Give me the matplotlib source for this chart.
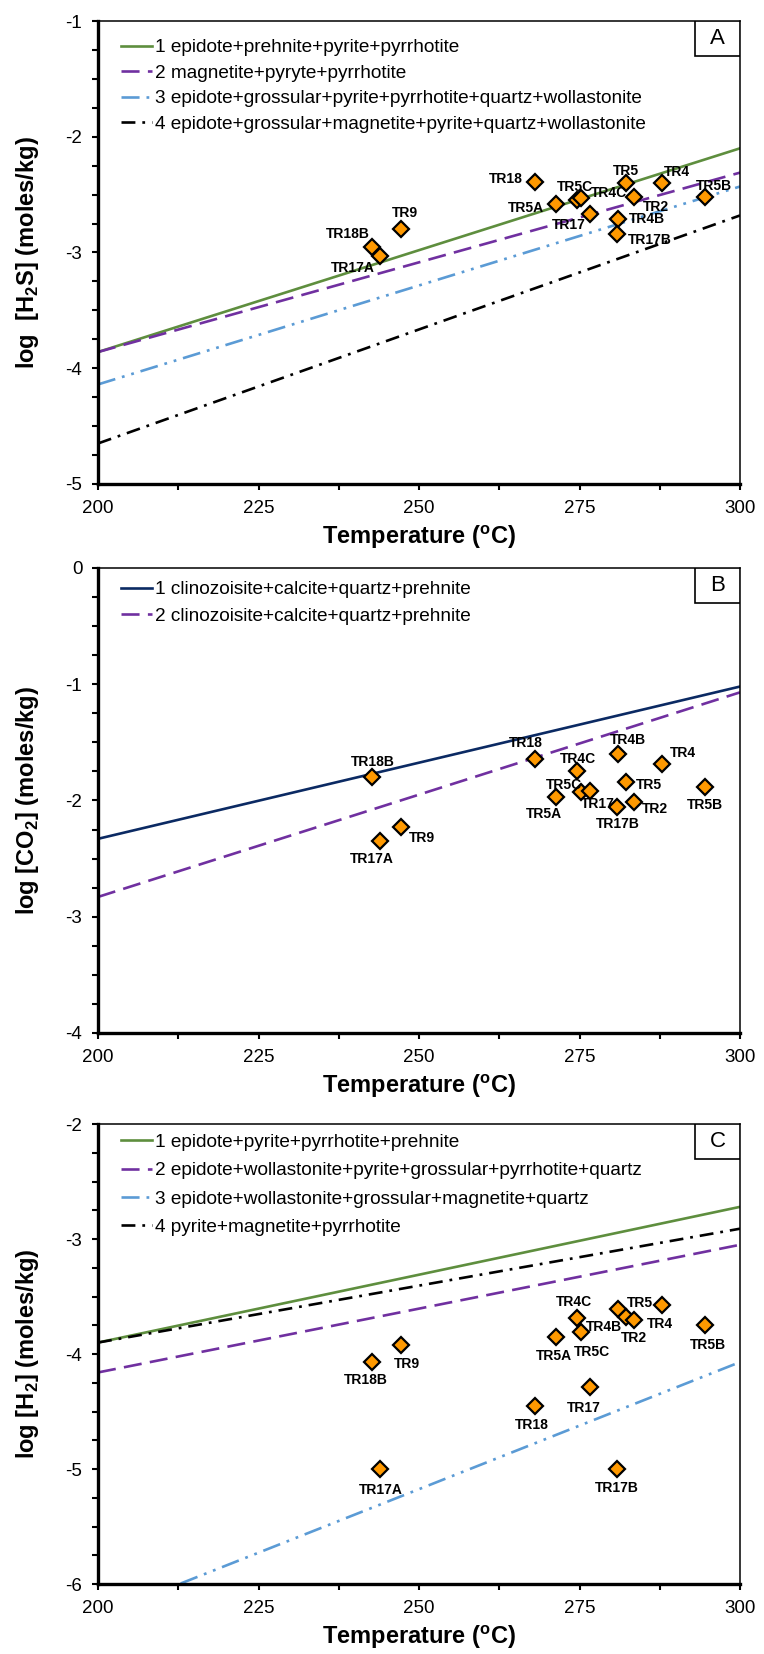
import numpy as np
import matplotlib
matplotlib.use('Agg')
import matplotlib.pyplot as plt
from matplotlib.patches import Rectangle
from matplotlib.ticker import MultipleLocator

plt.rcParams['font.family'] = ['Liberation Sans', 'DejaVu Sans']
plt.rcParams['mathtext.fontset'] = 'custom'
plt.rcParams['mathtext.rm'] = 'Liberation Sans'
plt.rcParams['mathtext.bf'] = 'Liberation Sans:bold'
plt.rcParams['axes.unicode_minus'] = False
plt.rcParams['lines.scale_dashes'] = False

#######################################################
################### DATOS #############################
#######################################################
# muestras y temperatura (oC)
samples = ['TR18B', 'TR17A', 'TR9', 'TR18', 'TR5A', 'TR4C', 'TR5C',
           'TR17', 'TR4B', 'TR17B', 'TR5', 'TR2', 'TR4', 'TR5B']
temp = [242.6, 244.0, 247.2, 268.0, 271.4, 274.6, 275.2,
        276.6, 281.0, 280.8, 282.2, 283.5, 287.8, 294.6]

# log de concentraciones (moles/kg)
logH2S = [-2.95, -3.03, -2.80, -2.39, -2.58, -2.55, -2.53,
          -2.67, -2.71, -2.84, -2.40, -2.52, -2.40, -2.52]
logCO2 = [-1.80, -2.35, -2.23, -1.64, -1.97, -1.75, -1.93,
          -1.92, -1.60, -2.06, -1.84, -2.01, -1.69, -1.88]
logH2 = [-4.07, -5.00, -3.92, -4.45, -3.85, -3.69, -3.81,
         -4.29, -3.61, -5.00, -3.68, -3.70, -3.57, -3.75]

# rectas de equilibrio: valor a 200 y 300 oC
t_line = [200, 300]

labelsA = ['1 epidote+prehnite+pyrite+pyrrhotite',
           '2 magnetite+pyryte+pyrrhotite',
           '3 epidote+grossular+pyrite+pyrrhotite+quartz+wollastonite',
           '4 epidote+grossular+magnetite+pyrite+quartz+wollastonite']
linesA = [[-3.86, -2.10], [-3.86, -2.31], [-4.14, -2.43], [-4.65, -2.68]]

labelsB = ['1 clinozoisite+calcite+quartz+prehnite',
           '2 clinozoisite+calcite+quartz+prehnite']
linesB = [[-2.33, -1.02], [-2.83, -1.07]]

labelsC = ['1 epidote+pyrite+pyrrhotite+prehnite',
           '2 epidote+wollastonite+pyrite+grossular+pyrrhotite+quartz',
           '3 epidote+wollastonite+grossular+magnetite+quartz',
           '4 pyrite+magnetite+pyrrhotite']
linesC = [[-3.90, -2.72], [-4.16, -3.05], [-6.28, -4.07], [-3.90, -2.91]]

#######################################################
################### ESTILOS ###########################
#######################################################
green = '#5E8E3E'
purple = '#7030A0'
blue = '#5B9BD5'
navy = '#0B2A63'
solid = '-'
dash = (0, (13, 6))
dashdotdot = (0, (13, 5, 2, 5, 2, 5))
dashdot = (0, (10, 5, 2, 5))

stylesA = [(green, solid), (purple, dash), (blue, dashdotdot), ('black', dashdot)]
stylesB = [(navy, solid), (purple, dash)]
stylesC = [(green, solid), (purple, dash), (blue, dashdotdot), ('black', dashdot)]

# desplazamiento de etiquetas (puntos)
offA = {'TR18B': (-17, 9), 'TR17A': (-20, -9), 'TR9': (3, 12), 'TR18': (-21, 2),
        'TR5A': (-22, -3), 'TR4C': (23, 5), 'TR5C': (-4, 8), 'TR17': (-15, -8),
        'TR4B': (21, 0), 'TR17B': (24, -4), 'TR5': (0, 9), 'TR2': (16, -7),
        'TR4': (11, 8), 'TR5B': (6, 8)}
offB = {'TR18B': (1, 11), 'TR17A': (-6, -13), 'TR9': (15, -8), 'TR18': (-6, 11),
        'TR5A': (-9, -12), 'TR4C': (1, 9), 'TR5C': (-12, 5), 'TR17': (6, -9),
        'TR4B': (7, 10), 'TR17B': (1, -12), 'TR5': (17, -2), 'TR2': (15, -5),
        'TR4': (15, 8), 'TR5B': (0, -13)}
offC = {'TR18B': (-4, -13), 'TR17A': (0, -15), 'TR9': (4, -14), 'TR18': (-2, -14),
        'TR5A': (-2, -14), 'TR4C': (-2, 12), 'TR5C': (8, -14), 'TR17': (-4, -15),
        'TR4B': (-10, -13), 'TR17B': (0, -14), 'TR5': (10, 10), 'TR2': (0, -13),
        'TR4': (-1, -14), 'TR5B': (2, -14)}


def panel(ax, yvals, lines, labels, styles, offs, ylim, ylabel, letter, leg_y, leg_sp):
    for vals, lab, (c, ls) in zip(lines, labels, styles):
        ax.plot(t_line, vals, color=c, linestyle=ls, lw=1.9, label=lab)
    ax.plot(temp, yvals, 'D', ms=7.8, mfc='#FF9900', mec='black', mew=1.6,
            zorder=5, clip_on=False)
    for s, t, v in zip(samples, temp, yvals):
        ax.annotate(s, (t, v), xytext=offs[s], textcoords='offset points',
                    ha='center', va='center', fontsize=10, fontweight='bold', zorder=6)
    ax.set_xlim(200, 300)
    ax.set_ylim(*ylim)
    ax.xaxis.set_major_locator(MultipleLocator(25))
    ax.xaxis.set_minor_locator(MultipleLocator(12.5))
    ax.yaxis.set_major_locator(MultipleLocator(1))
    ax.yaxis.set_minor_locator(MultipleLocator(0.25))
    ax.tick_params(which='both', direction='out', length=4.3, width=1.5,
                   labelsize=13.5, pad=7)
    ax.tick_params(which='minor', labelleft=False, labelbottom=False)
    for sp in ['left', 'bottom']:
        ax.spines[sp].set_linewidth(2.4)
    for sp in ['top', 'right']:
        ax.spines[sp].set_linewidth(1.1)
    ax.set_xlabel(r'Temperature ($^{\mathbf{o}}$C)', fontsize=17, fontweight='bold')
    ax.xaxis.set_label_coords(0.5, -0.115)
    ax.xaxis.label.set_va('center')
    ax.set_ylabel(ylabel, fontsize=17, fontweight='bold')
    ax.yaxis.set_label_coords(-0.11, 0.5)
    ax.yaxis.label.set_va('center')
    ax.legend(loc='upper left', bbox_to_anchor=(0.036, leg_y), frameon=False,
              fontsize=13.7, handlelength=1.6, handletextpad=0.2,
              labelspacing=leg_sp, borderpad=0, borderaxespad=0)
    ax.add_patch(Rectangle((0.93, 0.925), 0.07, 0.075, transform=ax.transAxes,
                           fc='white', ec='black', lw=1.2, zorder=7))
    ax.text(0.965, 0.9625, letter, transform=ax.transAxes, ha='center',
            va='center', fontsize=16, zorder=8)


fig = plt.figure(figsize=(7.64, 16.54), dpi=100)
axA = fig.add_axes([0.1283, 0.7074, 0.8403, 0.2799])
axB = fig.add_axes([0.1283, 0.3755, 0.8403, 0.2811])
axC = fig.add_axes([0.1283, 0.0423, 0.8403, 0.2781])

panel(axA, logH2S, linesA, labelsA, stylesA, offA, (-5, -1),
      r'log  [H$_{\mathbf{2}}$S] (moles/kg)', 'A', 0.961, 0.43)
panel(axB, logCO2, linesB, labelsB, stylesB, offB, (-4, 0),
      r'log [CO$_{\mathbf{2}}$] (moles/kg)', 'B', 0.972, 0.5)
panel(axC, logH2, linesC, labelsC, stylesC, offC, (-6, -2),
      r'log [H$_{\mathbf{2}}$] (moles/kg)', 'C', 0.979, 0.58)

fig.savefig('out.png', dpi=100)
